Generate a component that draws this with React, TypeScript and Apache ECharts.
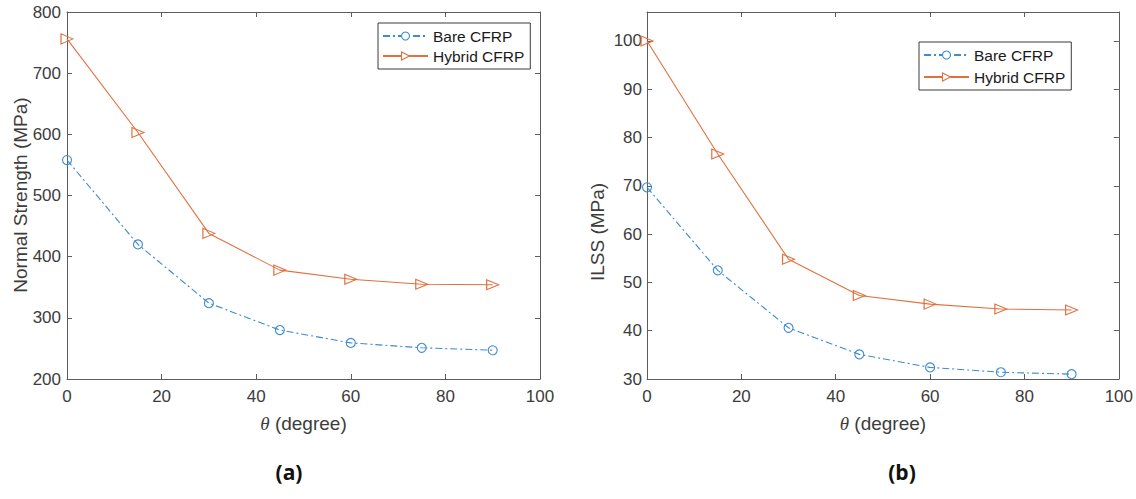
import React, { useEffect, useRef } from "react";
import * as echarts from "echarts";

const angles = [0, 15, 30, 45, 60, 75, 90];
const strengthBare = [558, 420, 324, 280, 259, 251, 247];
const strengthHybrid = [756, 603, 438, 378, 363, 355, 354];
const ilssBare = [69.7, 52.5, 40.6, 35.1, 32.4, 31.4, 31.0];
const ilssHybrid = [100, 76.6, 54.8, 47.3, 45.5, 44.5, 44.3];
const seriesNames = ["Bare CFRP", "Hybrid CFRP"];
const xTitle = "{i|θ} (degree)";
const yTitles = ["Normal Strength (MPa)", "ILSS (MPa)"];
const captions = ["(a)", "(b)"];

const BLUE = "#3d8bd0";
const ORANGE = "#e2703e";
const AXIS = "#5c5c5c";
const LABEL = "#3c3c3c";
const FONT = "'Liberation Sans', Arial, Helvetica, sans-serif";

const pairs = (ys: number[]) => angles.map((a, i) => [a, ys[i]]);

export default function App() {
  const ref = useRef<HTMLDivElement>(null);
  useEffect(() => {
    if (!ref.current) return;
    const chart = echarts.init(ref.current, undefined, { renderer: "svg" });
    const grids = [
      { left: 67, top: 12, width: 473, height: 367 },
      { left: 647, top: 12, width: 472, height: 367 },
    ];
    const xBase = (gi: number, pos: "bottom" | "top") => ({
      type: "value",
      gridIndex: gi,
      position: pos,
      min: 0,
      max: 100,
      interval: 20,
      axisLine: { show: true, onZero: false, lineStyle: { color: AXIS, width: 1 } },
      axisTick: { show: true, inside: true, length: 5, lineStyle: { color: AXIS } },
      splitLine: { show: false },
      axisLabel: {
        show: pos === "bottom",
        color: LABEL,
        fontSize: 17,
        fontFamily: FONT,
        margin: 9,
      },
      ...(pos === "bottom"
        ? {
            name: xTitle,
            nameLocation: "middle",
            nameGap: 35,
            nameTextStyle: {
              color: LABEL,
              fontSize: 19,
              fontFamily: FONT,
              rich: {
                i: {
                  fontStyle: "italic",
                  fontFamily: "'Liberation Serif', 'Times New Roman', serif",
                  fontSize: 19,
                  color: LABEL,
                },
              },
            },
          }
        : {}),
    });
    const yBase = (gi: number, pos: "left" | "right", min: number, max: number, interval: number) => ({
      type: "value",
      gridIndex: gi,
      position: pos,
      min,
      max,
      interval,
      axisLine: { show: true, onZero: false, lineStyle: { color: AXIS, width: 1 } },
      axisTick: { show: true, inside: true, length: 5, lineStyle: { color: AXIS } },
      splitLine: { show: false },
      axisLabel: {
        show: pos === "left",
        color: LABEL,
        fontSize: 17,
        fontFamily: FONT,
        margin: gi === 0 ? 6 : 5,
        showMaxLabel: gi === 0,
      },
    });
    const mkSeries = (name: string, ys: number[], gi: number) => {
      const bare = name === seriesNames[0];
      const c = bare ? BLUE : ORANGE;
      return {
        type: "line",
        name,
        xAxisIndex: gi * 2,
        yAxisIndex: gi * 2,
        data: pairs(ys),
        symbol: bare ? "circle" : "triangle",
        symbolSize: bare ? 9 : [10, 12],
        symbolRotate: bare ? 0 : -90,
        showAllSymbol: true,
        lineStyle: { color: c, width: 1.1, type: bare ? [7, 3, 2, 3] : "solid" },
        itemStyle: { color: "rgba(255,255,255,0)", borderColor: c, borderWidth: 1.1 },
        color: c,
        z: bare ? 3 : 4,
      };
    };
    const legendBase = (left: number, top: number, gap: number) => ({
      orient: "vertical",
      left,
      top,
      data: seriesNames,
      itemWidth: 45,
      itemHeight: 10,
      itemGap: gap,
      padding: [4, 6, 4, 4],
      borderColor: "#3a3a3a",
      borderWidth: 1,
      backgroundColor: "#fff",
      selectedMode: false,
      itemStyle: { color: "#ffffff", borderWidth: 1.1 },
      textStyle: { color: "#1a1a1a", fontSize: 15.5, fontFamily: FONT, lineHeight: 18, padding: [0, 0, 0, 0] },
    });
    chart.setOption({
      animation: false,
      backgroundColor: "#fff",
      grid: grids,
      xAxis: [xBase(0, "bottom"), xBase(0, "top"), xBase(1, "bottom"), xBase(1, "top")],
      yAxis: [
        yBase(0, "left", 200, 800, 100),
        yBase(0, "right", 200, 800, 100),
        yBase(1, "left", 30, 106, 10),
        yBase(1, "right", 30, 106, 10),
      ],
      legend: [legendBase(378, 23, 2), legendBase(919, 42, 4)],
      series: [
        mkSeries(seriesNames[0], strengthBare, 0),
        mkSeries(seriesNames[1], strengthHybrid, 0),
        mkSeries(seriesNames[0], ilssBare, 1),
        mkSeries(seriesNames[1], ilssHybrid, 1),
      ],
      graphic: [
        {
          type: "text",
          x: 20,
          y: 195,
          rotation: Math.PI / 2,
          style: {
            text: yTitles[0],
            fill: LABEL,
            font: `19px ${FONT}`,
            align: "center",
            verticalAlign: "middle",
          },
        },
        {
          type: "text",
          x: 597,
          y: 232,
          rotation: Math.PI / 2,
          style: {
            text: yTitles[1],
            fill: LABEL,
            font: `19px ${FONT}`,
            align: "center",
            verticalAlign: "middle",
          },
        },
        {
          type: "text",
          x: 289,
          y: 472,
          style: {
            text: captions[0],
            fill: "#111",
            font: `bold 21px 'Open Sans', Lato, sans-serif`,
            align: "center",
            verticalAlign: "middle",
          },
        },
        {
          type: "text",
          x: 902,
          y: 472,
          style: {
            text: captions[1],
            fill: "#111",
            font: `bold 21px 'Open Sans', Lato, sans-serif`,
            align: "center",
            verticalAlign: "middle",
          },
        },
      ],
    });
    return () => chart.dispose();
  }, []);
  return (
    <div
      ref={ref}
      style={{ position: "fixed", left: 0, top: 0, width: 1136, height: 499, background: "#fff" }}
    />
  );
}
